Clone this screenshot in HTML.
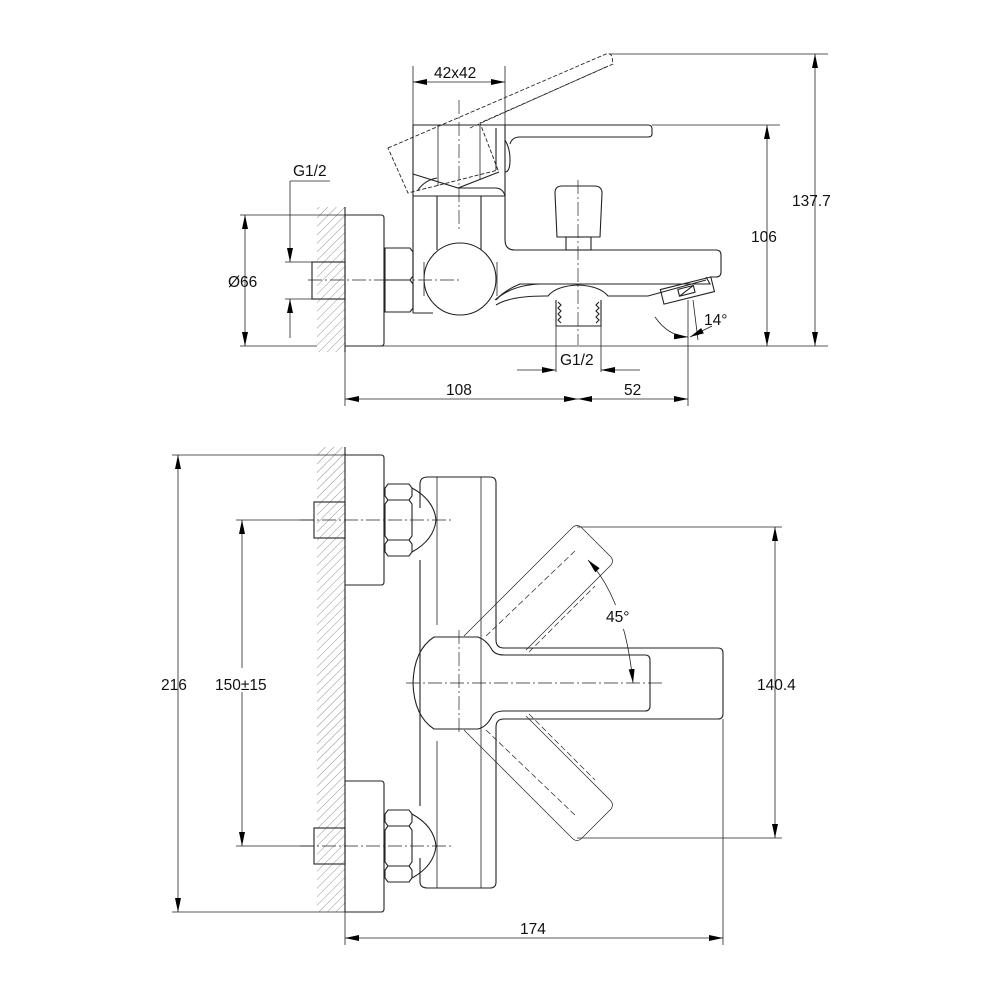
<!DOCTYPE html>
<html><head><meta charset="utf-8"><style>
html,body{margin:0;padding:0;background:#fff}
svg{display:block}
text{font-family:"Liberation Sans",sans-serif;font-size:15.5px;fill:#111}
</style></head><body>
<svg width="1000" height="1000" viewBox="0 0 1000 1000" xmlns="http://www.w3.org/2000/svg">
<defs>
<pattern id="h" width="6" height="6" patternUnits="userSpaceOnUse" patternTransform="rotate(45)">
<line x1="0" y1="0" x2="0" y2="6" stroke="#777" stroke-width="0.8"/>
</pattern>
<marker id="a" viewBox="0 0 14 6" refX="14" refY="3" markerWidth="14" markerHeight="6" orient="auto-start-reverse" markerUnits="userSpaceOnUse">
<path d="M0,0 L14,3 L0,6 z" fill="#000"/></marker>
<clipPath id="bc"><rect x="424" y="240" width="73" height="80"/></clipPath>
</defs>
<g fill="none" stroke="#222" stroke-width="1.1">
<!-- ===== TOP VIEW ===== -->
<rect x="317" y="207" width="28" height="145" fill="url(#h)" stroke="none"/>
<line x1="345" y1="207" x2="345" y2="352"/>
<rect x="312" y="262" width="33" height="37"/>
<path d="M345,215 H381 Q384,215 384,218 V343 Q384,346 381,346 H345"/>
<path d="M385,248 H410 L413,252 V276 L410,280 L413,284 V308 L410,312 H385 Z"/>
<line x1="385" y1="280" x2="410" y2="280"/>
<line x1="413" y1="196" x2="413" y2="313"/>
<path d="M413,313 H433"/>
<circle cx="460" cy="279" r="36" clip-path="url(#bc)"/>
<path d="M424,262 V296 M497,262 V296" stroke-width="0.8"/>
<path d="M496,300 Q505,290 520,284 H710"/>
<line x1="505" y1="196" x2="505" y2="240"/>
<path d="M505,240 Q505,250 515,250 H716 Q721,250 721,255 V272 Q721,277 716,277 H710"/>
<path d="M495,300 Q512,285 540,284 H710 L706,277"/>
<path d="M496,305 Q510,296 545,296 H548 Q556,286 578,285 Q600,286 608,296 H648 L706,280"/>
<path d="M556,300 V326 H601 V300"/>
<path d="M558,302 l3,3 -3,3 3,3 -3,3 3,3 -3,3 3,3 M599,302 l-3,3 3,3 -3,3 3,3 -3,3 3,3 -3,3"/>
<path d="M555,193 Q555,186 562,186 H594 Q602,186 602,193 L600,237 H557 Z"/>
<rect x="566" y="237" width="25" height="13"/>
<g transform="rotate(-14 688 293)">
<rect x="662" y="283" width="52" height="15"/>
<rect x="679" y="287" width="16" height="7"/>
<line x1="679" y1="294" x2="695" y2="287"/>
</g>
<!-- column -->
<path d="M413,196 V125 H505 V196"/>
<line x1="413" y1="196" x2="505" y2="196"/>
<line x1="437" y1="196" x2="437" y2="250"/>
<line x1="481" y1="196" x2="481" y2="250"/>
<line x1="438" y1="125" x2="438" y2="186" stroke-width="0.8"/>
<line x1="480" y1="125" x2="480" y2="180" stroke-width="0.8"/>
<path d="M413,174 L458,188 L499,172"/>
<path d="M418,190 Q425,180 437,178 M458,188 H495 Q503,188 505,196"/>
<path d="M505,125 H648 Q652,125 652,129 V134 Q652,137 648,137 H520 Q512,137 510,144"/>
<line x1="496" y1="128" x2="496" y2="170"/>
<path d="M505,140 Q510,148 510,160 Q510,172 505,172"/>
<!-- dashed tilted lever -->
<path d="M388,148 L606,54 Q611,53 612,57 L613,64 L480,123 L498,170 L408,193 Z" stroke-dasharray="4,2" stroke-width="0.9"/>
<path d="M470,128 L608,66" stroke-dasharray="4,2" stroke-width="0.7"/>
<!-- centerlines -->
<g stroke-dasharray="14,3,2,3" stroke-width="0.7">
<line x1="459" y1="100" x2="459" y2="232"/>
<line x1="308" y1="280" x2="460" y2="280"/>
<line x1="578" y1="180" x2="578" y2="345"/>
</g>
<!-- dims top -->
<g stroke-width="0.8">
<line x1="413" y1="66" x2="413" y2="125"/>
<line x1="505" y1="66" x2="505" y2="125"/>
<line x1="413" y1="82" x2="505" y2="82" marker-start="url(#a)" marker-end="url(#a)"/>
<line x1="610" y1="54" x2="828" y2="54"/>
<line x1="652" y1="125" x2="780" y2="125"/>
<line x1="345" y1="346" x2="828" y2="346"/>
<line x1="815" y1="54" x2="815" y2="346" marker-start="url(#a)" marker-end="url(#a)"/>
<line x1="767" y1="125" x2="767" y2="346" marker-start="url(#a)" marker-end="url(#a)"/>
<line x1="240" y1="215" x2="345" y2="215"/>
<line x1="240" y1="346" x2="317" y2="346"/>
<line x1="245" y1="215" x2="245" y2="346" marker-start="url(#a)" marker-end="url(#a)"/>
<line x1="290" y1="181" x2="330" y2="181"/>
<line x1="290" y1="181" x2="290" y2="262" marker-end="url(#a)"/>
<line x1="290" y1="338" x2="290" y2="299" marker-end="url(#a)"/>
<line x1="285" y1="262" x2="312" y2="262"/>
<line x1="285" y1="299" x2="312" y2="299"/>
<line x1="345" y1="352" x2="345" y2="406"/>
<line x1="688" y1="300" x2="688" y2="406"/>
<line x1="517" y1="370" x2="556" y2="370" marker-end="url(#a)"/>
<line x1="640" y1="370" x2="601" y2="370" marker-end="url(#a)"/>
<line x1="556" y1="326" x2="556" y2="372"/>
<line x1="601" y1="326" x2="601" y2="372"/>
<line x1="345" y1="399" x2="578" y2="399" marker-start="url(#a)" marker-end="url(#a)"/>
<line x1="578" y1="399" x2="688" y2="399" marker-start="url(#a)" marker-end="url(#a)"/>
<line x1="693" y1="300" x2="698" y2="340"/>
<path d="M655,317 Q668,336 688,337" marker-end="url(#a)"/>
<path d="M712,326 L690,337" marker-end="url(#a)"/>
</g>
<!-- ===== BOTTOM VIEW ===== -->
<rect x="317" y="447" width="28" height="465" fill="url(#h)" stroke="none"/>
<line x1="345" y1="447" x2="345" y2="912"/>
<rect x="314" y="502" width="31" height="36"/>
<rect x="314" y="828" width="31" height="36"/>
<path d="M345,455 H381 Q384,455 384,458 V582 Q384,585 381,585 H345"/>
<path d="M345,781 H381 Q384,781 384,784 V909 Q384,912 381,912 H345"/>
<g id="nut"><path d="M388,484 H409 L412,488 V496 L409,500 L412,504 V536 L409,540 L412,544 V552 L409,556 H388 L385,552 V544 L388,540 L385,536 V504 L388,500 L385,496 V488 Z"/>
<line x1="388" y1="500" x2="409" y2="500"/><line x1="388" y1="540" x2="409" y2="540"/>
<path d="M412,488 Q434,500 436,520 Q434,540 412,552"/></g>
<use href="#nut" transform="translate(0,326)"/>
<path d="M420,484 Q420,477 428,477 H490 Q496,477 496,483 V640 Q496,648 504,648 H718 Q723,648 723,653 V714 Q723,719 718,719 H504 Q496,719 496,727 V882 Q496,888 490,888 H428 Q420,888 420,882 V858 M420,806 V560 M420,484 V508"/>
<path d="M437,477 V625 M437,741 V888 M481,477 V888" stroke-width="0.8"/>
<path d="M434,637 H478 Q486,640 491,648 Q494,655 504,655 H645 Q650,655 650,660 V706 Q650,711 645,711 H504 Q494,711 491,718 Q486,727 478,729 H434 Q414,716 413,683 Q414,650 434,637 Z"/>
<!-- ghost levers -->
<g stroke-width="0.7">
<path d="M464,636 L573,527 Q577,524 581,527 L611,557 Q614,561 611,565 L526,650"/>
<path d="M464,730 L573,839 Q577,842 581,839 L611,809 Q614,805 611,801 L526,716"/>
<path d="M486,636 L577,549 M529,652 L595,586" stroke-dasharray="6,3"/>
<path d="M486,730 L577,817 M529,714 L595,780" stroke-dasharray="6,3"/>
</g>
<g stroke-dasharray="14,3,2,3" stroke-width="0.7">
<line x1="300" y1="520" x2="452" y2="520"/>
<line x1="300" y1="846" x2="452" y2="846"/>
<line x1="406" y1="683" x2="663" y2="683"/>
<line x1="459" y1="630" x2="459" y2="735"/>
</g>
<g stroke-width="0.8">
<line x1="172" y1="455" x2="345" y2="455"/>
<line x1="172" y1="912" x2="345" y2="912"/>
<line x1="178" y1="455" x2="178" y2="912" marker-start="url(#a)" marker-end="url(#a)"/>
<line x1="236" y1="520" x2="314" y2="520"/>
<line x1="236" y1="846" x2="314" y2="846"/>
<line x1="242" y1="520" x2="242" y2="846" marker-start="url(#a)" marker-end="url(#a)"/>
<line x1="577" y1="527" x2="782" y2="527"/>
<line x1="577" y1="838" x2="782" y2="838"/>
<line x1="775" y1="527" x2="775" y2="838" marker-start="url(#a)" marker-end="url(#a)"/>
<line x1="345" y1="912" x2="345" y2="945"/>
<line x1="723" y1="719" x2="723" y2="945"/>
<line x1="345" y1="938" x2="723" y2="938" marker-start="url(#a)" marker-end="url(#a)"/>
<path d="M588,560 Q625,600 633,683" marker-start="url(#a)" marker-end="url(#a)"/>
</g>
</g>
<rect x="600" y="605" width="36" height="24" fill="#fff"/>
<rect x="212" y="668" width="62" height="24" fill="#fff"/>
<text x="434" y="78">42x42</text>
<text x="293" y="176">G1/2</text>
<text x="228" y="287">Ø66</text>
<text x="792" y="206">137.7</text>
<text x="751" y="242">106</text>
<text x="704" y="325">14°</text>
<text x="560" y="365">G1/2</text>
<text x="446" y="395">108</text>
<text x="624" y="395">52</text>
<text x="161" y="690">216</text>
<text x="215" y="690">150±15</text>
<text x="757" y="690">140.4</text>
<text x="606" y="622">45°</text>
<text x="520" y="934">174</text>
</svg>
</body></html>
